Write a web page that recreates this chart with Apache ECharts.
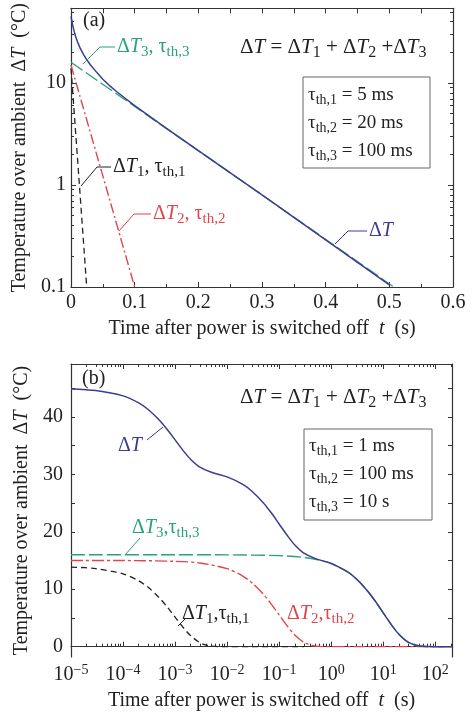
<!DOCTYPE html>
<html>
<head>
<meta charset="utf-8">
<script src="https://cdn.jsdelivr.net/npm/echarts@6/dist/echarts.min.js"></script>
<style>
html, body { margin: 0; padding: 0; background: #fff; }
#main { width: 473px; height: 712px; }
</style>
</head>
<body>
<div id="main"></div>
<script>
// ---- panel (a): linear time, log temperature ----
var aTime = [0, 0.0025, 0.005, 0.0075, 0.01, 0.015, 0.02, 0.025, 0.03, 0.04, 0.05, 0.06, 0.07, 0.085, 0.1, 0.15, 0.2, 0.3, 0.4, 0.5];
var aTotal = [45, 37.3, 32.1, 28.3, 25.5, 21.6, 18.9, 16.9, 15.2, 12.8, 10.9, 9.5, 8.4, 7.1, 6.0, 3.6, 2.17, 0.8, 0.29, 0.105];
var aTime1 = [0, 0.01, 0.0247];
var aDT1 = [14, 1.9, 0.1];
var aTime2 = [0, 0.05, 0.1];
var aDT2 = [15, 1.23, 0.1];
var aTime3 = [0, 0.1, 0.2, 0.3, 0.507];
var aDT3 = [16, 5.9, 2.17, 0.8, 0.1];
var aYLabels = [0.1, 1, 10];
var aYMinor = [0.2, 0.3, 0.4, 0.5, 0.6, 0.7, 0.8, 0.9, 2, 3, 4, 5, 6, 7, 8, 9, 20, 30, 40, 50];

// ---- panel (b): log time, linear temperature ----
var bTime = [1e-5, 3e-5, 1e-4, 2e-4, 3e-4, 5e-4, 7e-4, 1e-3, 1.5e-3, 2e-3, 3e-3, 5e-3, 1e-2, 2e-2, 3e-2, 5e-2, 7e-2,
  0.1, 0.15, 0.2, 0.3, 0.5, 1, 2, 3, 5, 7, 10, 15, 20, 30, 50, 100, 210];
var bTotal = [44.86, 44.58, 43.65, 42.43, 41.33, 39.42, 37.85, 36.0, 33.9, 32.59, 31.26, 30.35, 29.55, 28.25, 27.06, 25.02, 23.34,
  21.36, 19.11, 17.71, 16.28, 15.32, 14.48, 13.1, 11.85, 9.7, 7.95, 5.89, 3.57, 2.17, 0.8, 0.11, 0, 0];
var bTime1 = [1e-5, 3e-5, 1e-4, 2e-4, 3e-4, 5e-4, 7e-4, 1e-3, 1.5e-3, 2e-3, 3e-3, 4e-3, 6e-3, 1e-2, 0.03, 0.3];
var bDT1 = [13.86, 13.58, 12.67, 11.46, 10.37, 8.49, 6.95, 5.15, 3.12, 1.89, 0.7, 0.26, 0.035, 0, 0, 0];
var bTime2 = [1e-5, 1e-4, 1e-3, 3e-3, 1e-2, 2e-2, 3e-2, 5e-2, 7e-2, 0.1, 0.15, 0.2, 0.3, 0.5, 1, 3, 10, 210];
var bDT2 = [15, 14.99, 14.85, 14.56, 13.57, 12.28, 11.11, 9.1, 7.45, 5.52, 3.35, 2.03, 0.75, 0.1, 0, 0, 0, 0];
var bTime3 = [1e-5, 1e-3, 1e-2, 0.1, 0.3, 0.6, 1, 2, 3, 5, 7, 10, 15, 20, 30, 50, 100, 210];
var bDT3 = [16, 16, 15.98, 15.84, 15.53, 15.06, 14.48, 13.1, 11.85, 9.7, 7.95, 5.89, 3.57, 2.17, 0.8, 0.11, 0, 0];
var bYLabels = [0, 10, 20, 30, 40];
var bYTicks = [0, 5, 10, 15, 20, 25, 30, 35, 40, 45];
var bXMinor = [];
[1e-5, 1e-4, 1e-3, 1e-2, 1e-1, 1, 10, 100].forEach(function (d) {
  for (var k = 2; k <= 9; k++) bXMinor.push(+(d * k).toPrecision(3));
});

var F = 'Liberation Serif';
var INK = '#222';
var BLUE = '#3c3d8f', GREEN = '#2aa277', RED = '#e2444c', BLACK = '#222';

function zip(xs, ys) { return xs.map(function (x, i) { return [x, ys[i]]; }); }

// rich styles for graphic text (zrender keys)
function rich(size) {
  var s = Math.round(size * 0.76);
  return {
    n: { fontFamily: F, fontSize: size, lineHeight: size + 6 },
    i: { fontFamily: F, fontSize: size, fontStyle: 'italic', lineHeight: size + 6 },
    s: { fontFamily: F, fontSize: s, lineHeight: s, verticalAlign: 'bottom' }
  };
}
function txt(x, y, text, color, size) {
  return {
    type: 'text', x: x, y: y, z: 100,
    style: { text: text, fill: color, fontFamily: F, fontSize: size, rich: rich(size),
      align: 'left', verticalAlign: 'middle' }
  };
}
function leader(points, color) {
  return { type: 'polyline', z: 100, shape: { points: points }, style: { stroke: color, lineWidth: 1, fill: null } };
}
function box(x, y, w, h) {
  return { type: 'rect', z: 99, shape: { x: x, y: y, width: w, height: h }, style: { fill: '#fff', stroke: '#666', lineWidth: 1 } };
}

var axisLine = { show: true, lineStyle: { color: '#333', width: 1.2 } };
var nameRich = {
  n: { fontFamily: F, fontSize: 20, color: INK },
  i: { fontFamily: F, fontSize: 20, color: INK, fontStyle: 'italic' }
};
var yName = '{n|Temperature over ambient  Δ}{i|T}{n|  (°C)}';
var xName = '{n|Time after power is switched off  }{i|t}{n|  (s)}';

function tickAxis(extra) {
  var o = {
    axisLine: axisLine, splitLine: { show: false }, axisLabel: { show: false },
    axisTick: { show: true, inside: true, length: 5, lineStyle: { color: '#333' } }
  };
  for (var k in extra) o[k] = extra[k];
  return o;
}
function minorAxis(extra, values) {
  var o = tickAxis(extra);
  o.axisLine = { show: false };
  o.axisTick = { show: true, inside: true, length: 3, customValues: values, lineStyle: { color: '#333' } };
  return o;
}

var chart = echarts.init(document.getElementById('main'));
chart.setOption({
  animation: false,
  backgroundColor: '#fff',
  grid: [
    { left: 71, top: 4, width: 382, height: 283 },
    { left: 71, top: 364, width: 381, height: 293 }
  ],
  xAxis: [
    tickAxis({ gridIndex: 0, type: 'value', min: 0, max: 0.6, interval: 0.1, position: 'bottom',
      minorTick: { show: true, splitNumber: 2, length: 3, lineStyle: { color: '#333' } },
      axisLabel: { show: true, fontFamily: F, fontSize: 20, color: INK, margin: 6,
        formatter: function (v) { return v === 0 ? '0' : v.toFixed(1); } },
      name: xName, nameLocation: 'middle', nameGap: 32, nameTextStyle: { rich: nameRich } }),
    tickAxis({ gridIndex: 0, type: 'value', min: 0, max: 0.6, interval: 0.05, position: 'top' }),
    tickAxis({ gridIndex: 1, type: 'log', min: 1e-5, max: 210, position: 'bottom',
      axisLabel: { show: true, margin: 6,
        formatter: function (v) {
          var e = Math.round(Math.log10(v));
          if (Math.abs(Math.log10(v) - e) > 1e-6) return '';
          return '{b|10}{s|' + (e < 0 ? '−' + (-e) : e) + '}';
        },
        rich: {
          b: { fontFamily: F, fontSize: 20, color: INK, lineHeight: 24 },
          s: { fontFamily: F, fontSize: 14, color: INK, lineHeight: 14, verticalAlign: 'top' }
        } },
      name: xName, nameLocation: 'middle', nameGap: 34, nameTextStyle: { rich: nameRich } }),
    minorAxis({ gridIndex: 1, type: 'log', min: 1e-5, max: 210, position: 'bottom' }, bXMinor),
    tickAxis({ gridIndex: 1, type: 'log', min: 1e-5, max: 210, position: 'top' }),
    minorAxis({ gridIndex: 1, type: 'log', min: 1e-5, max: 210, position: 'top' }, bXMinor)
  ],
  yAxis: [
    tickAxis({ gridIndex: 0, type: 'log', min: 0.1, max: 54, position: 'left',
      axisLabel: { show: true, fontFamily: F, fontSize: 20, color: INK, margin: 5,
        formatter: function (v) { return aYLabels.indexOf(+v.toPrecision(3)) >= 0 ? String(+v.toPrecision(3)) : ''; } },
      name: yName, nameLocation: 'middle', nameGap: 38, nameTextStyle: { rich: nameRich } }),
    minorAxis({ gridIndex: 0, type: 'log', min: 0.1, max: 54, position: 'left' }, aYMinor),
    tickAxis({ gridIndex: 0, type: 'log', min: 0.1, max: 54, position: 'right' }),
    minorAxis({ gridIndex: 0, type: 'log', min: 0.1, max: 54, position: 'right' }, aYMinor),
    tickAxis({ gridIndex: 1, type: 'value', min: -1.8, max: 49.2, position: 'left',
      axisTick: { show: true, inside: true, length: 4, customValues: bYTicks, lineStyle: { color: '#333' } },
      axisLabel: { show: true, fontFamily: F, fontSize: 20, color: INK, margin: 8, customValues: bYLabels },
      name: yName, nameLocation: 'middle', nameGap: 38, nameTextStyle: { rich: nameRich } }),
    tickAxis({ gridIndex: 1, type: 'value', min: -1.8, max: 49.2, position: 'right',
      axisTick: { show: true, inside: true, length: 4, customValues: bYTicks, lineStyle: { color: '#333' } } })
  ],
  series: [
    { type: 'line', xAxisIndex: 0, yAxisIndex: 0, data: zip(aTime1, aDT1), showSymbol: false,
      lineStyle: { color: BLACK, width: 1.3, type: [6, 4] } },
    { type: 'line', xAxisIndex: 0, yAxisIndex: 0, data: zip(aTime2, aDT2), showSymbol: false,
      lineStyle: { color: RED, width: 1.4, type: [10, 3, 2, 3] } },
    { type: 'line', xAxisIndex: 0, yAxisIndex: 0, data: zip(aTime3, aDT3), showSymbol: false,
      lineStyle: { color: GREEN, width: 1.4, type: [14, 4] } },
    { type: 'line', xAxisIndex: 0, yAxisIndex: 0, data: zip(aTime, aTotal), showSymbol: false,
      lineStyle: { color: BLUE, width: 1.5 } },

    { type: 'line', xAxisIndex: 2, yAxisIndex: 4, data: zip(bTime1, bDT1), showSymbol: false,
      smooth: 0.3, lineStyle: { color: BLACK, width: 1.3, type: [6, 4] } },
    { type: 'line', xAxisIndex: 2, yAxisIndex: 4, data: zip(bTime2, bDT2), showSymbol: false,
      smooth: 0.3, lineStyle: { color: RED, width: 1.4, type: [12, 3, 3, 3] } },
    { type: 'line', xAxisIndex: 2, yAxisIndex: 4, data: zip(bTime3, bDT3), showSymbol: false,
      smooth: 0.3, lineStyle: { color: GREEN, width: 1.4, type: [14, 4] } },
    { type: 'line', xAxisIndex: 2, yAxisIndex: 4, data: zip(bTime, bTotal), showSymbol: false,
      smooth: 0.3, lineStyle: { color: BLUE, width: 1.5 } }
  ],
  graphic: [
    // panel (a)
    txt(83, 21, '{n|(a)}', INK, 20),
    txt(240, 47, '{n|Δ}{i|T}{n| = Δ}{i|T}{s|1}{n| + Δ}{i|T}{s|2}{n| +Δ}{i|T}{s|3}', INK, 21),
    box(303, 77, 127, 91),
    txt(308, 95, '{n|τ}{s|th,1}{n| = 5 ms}', INK, 19),
    txt(308, 123, '{n|τ}{s|th,2}{n| = 20 ms}', INK, 19),
    txt(308, 151, '{n|τ}{s|th,3}{n| = 100 ms}', INK, 19),
    leader([[83, 64], [100, 47], [115, 47]], GREEN),
    txt(117, 47, '{n|Δ}{i|T}{s|3}{n|, τ}{s|th,3}', GREEN, 20),
    leader([[81, 186], [97, 167], [111, 167]], BLACK),
    txt(113, 167, '{n|Δ}{i|T}{s|1}{n|, τ}{s|th,1}', BLACK, 20),
    leader([[119, 231], [134, 214], [151, 214]], RED),
    txt(153, 214, '{n|Δ}{i|T}{s|2}{n|, τ}{s|th,2}', RED, 20),
    leader([[335, 244], [348, 231], [367, 231]], BLUE),
    txt(369, 231, '{n|Δ}{i|T}', BLUE, 20),
    // panel (b)
    txt(82, 379, '{n|(b)}', INK, 20),
    txt(240, 397, '{n|Δ}{i|T}{n| = Δ}{i|T}{s|1}{n| + Δ}{i|T}{s|2}{n| +Δ}{i|T}{s|3}', INK, 21),
    box(304, 429, 128, 91),
    txt(309, 446, '{n|τ}{s|th,1}{n| = 1 ms}', INK, 19),
    txt(309, 474, '{n|τ}{s|th,2}{n| = 100 ms}', INK, 19),
    txt(309, 502, '{n|τ}{s|th,3}{n| = 10 s}', INK, 19),
    leader([[147, 440], [163, 427]], BLUE),
    txt(118, 446, '{n|Δ}{i|T}', BLUE, 20),
    leader([[125, 555], [140, 538]], GREEN),
    txt(132, 528, '{n|Δ}{i|T}{s|3}{n|,τ}{s|th,3}', GREEN, 20),
    leader([[178, 626], [185, 619]], BLACK),
    txt(182, 614, '{n|Δ}{i|T}{s|1}{n|,τ}{s|th,1}', BLACK, 20),
    txt(287, 614, '{n|Δ}{i|T}{s|2}{n|,τ}{s|th,2}', RED, 20)
  ]
});
</script>
</body>
</html>
